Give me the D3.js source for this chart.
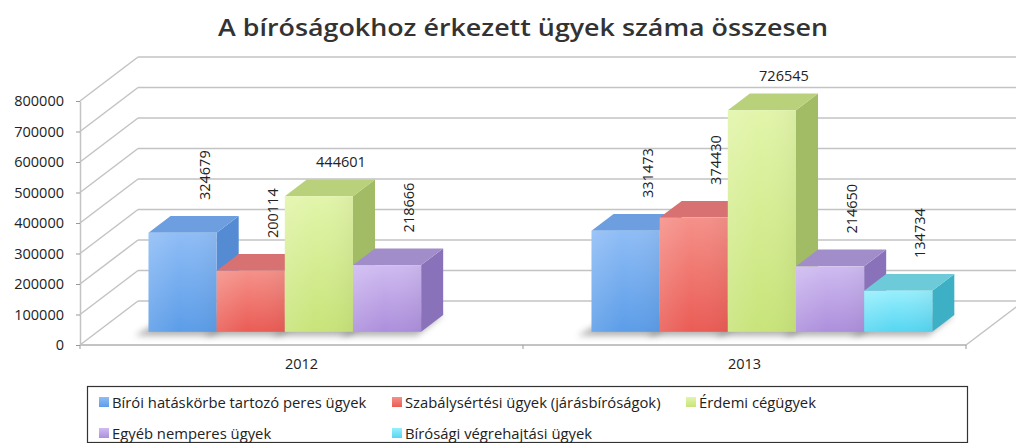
<!DOCTYPE html>
<html lang="hu">
<head>
<meta charset="utf-8">
<title>A bíróságokhoz érkezett ügyek száma összesen</title>
<script src="https://d3js.org/d3.v7.min.js"></script>
<style>
  body { margin: 0; background: #fff; }
  text { font-family: "Open Sans", sans-serif; }
</style>
</head>
<body>
<script>
// Width and height
var w = 1016;
var h = 443;

// Data
var years = ["2012", "2013"];
var seriesNames = [
  "Bírói hatáskörbe tartozó peres ügyek",
  "Szabálysértési ügyek (járásbíróságok)",
  "Érdemi cégügyek",
  "Egyéb nemperes ügyek",
  "Bírósági végrehajtási ügyek"
];
var biroiPeres = [324679, 331473];
var szabalysertesi = [200114, 374430];
var cegugyek = [444601, 726545];
var nemperes = [218666, 214650];
var vegrehajtasi = [null, 134734];   // no 2012 value
var yTicks = [0, 100000, 200000, 300000, 400000, 500000, 600000, 700000, 800000];

var series = [biroiPeres, szabalysertesi, cegugyek, nemperes, vegrehajtasi];

// face colours per series
var colors = [
  { light: "#8fbdf6", dark: "#5c9de8", side: "#548bd2", top: "#6d9fe0" },
  { light: "#f59189", dark: "#ea5c55", side: "#c46262", top: "#d87272" },
  { light: "#e2f5aa", dark: "#c8e47a", side: "#a2bc66", top: "#b9d17a" },
  { light: "#cfbbf1", dark: "#ad8fdc", side: "#8a72ba", top: "#a18dca" },
  { light: "#98effd", dark: "#56d6f2", side: "#3eb0c6", top: "#6dcbd9" }
];

var svg = d3.select("body")
  .append("svg")
  .attr("width", w)
  .attr("height", h);

svg.append("rect").attr("width", w).attr("height", h).attr("fill", "#fff");

var defs = svg.append("defs");
colors.forEach(function(c, i) {
  var g = defs.append("linearGradient").attr("id", "front" + i)
    .attr("x1", 0).attr("y1", 0).attr("x2", 0).attr("y2", 1);
  g.append("stop").attr("offset", "0%").attr("stop-color", c.light);
  g.append("stop").attr("offset", "100%").attr("stop-color", c.dark);
  var hg = defs.append("linearGradient").attr("id", "shine" + i)
    .attr("x1", 0).attr("y1", 0).attr("x2", 1).attr("y2", 0);
  hg.append("stop").attr("offset", "0%").attr("stop-color", "#fff").attr("stop-opacity", 0.12);
  hg.append("stop").attr("offset", "45%").attr("stop-color", "#fff").attr("stop-opacity", 0);
  hg.append("stop").attr("offset", "100%").attr("stop-color", "#000").attr("stop-opacity", 0.04);
});
defs.append("filter").attr("id", "blur")
  .attr("x", "-50%").attr("y", "-50%").attr("width", "200%").attr("height", "200%")
  .append("feGaussianBlur").attr("stdDeviation", 3);

// 3d offset of the back wall
var depthX = 58, depthY = -44;
var d0 = 0.3, d1 = 0.68;   // bar front / back depth

var x = d3.scaleBand().domain(years).range([80, 966]);
var xs = d3.scaleBand().domain(d3.range(seriesNames.length))
  .range([0, x.bandwidth()]).paddingOuter(0.75);
var y = d3.scaleLinear().domain([0, 800000]).range([345, 101]);

function px(xx, d) { return xx + d * depthX; }
function py(v, d) { return y(v) + d * depthY; }
function pts(a) { return a.map(function(p) { return p.join(","); }).join(" "); }

var gridColor = "#c3c3c3";

// back wall gridlines
svg.selectAll(".backgrid")
  .data(yTicks)
  .enter()
  .append("line")
  .attr("x1", px(80, 1)).attr("x2", px(966, 1))
  .attr("y1", function(d) { return py(d, 1); })
  .attr("y2", function(d) { return py(d, 1); })
  .attr("stroke", gridColor).attr("stroke-width", 1.5);

// side wall gridlines
svg.selectAll(".sidegrid")
  .data(yTicks)
  .enter()
  .append("line")
  .attr("x1", 80).attr("x2", px(80, 1))
  .attr("y1", function(d) { return y(d); })
  .attr("y2", function(d) { return py(d, 1); })
  .attr("stroke", gridColor).attr("stroke-width", 1.5);

// floor edges
svg.append("line")
  .attr("x1", 80).attr("x2", 966).attr("y1", y(0)).attr("y2", y(0))
  .attr("stroke", gridColor).attr("stroke-width", 2);
svg.append("line")
  .attr("x1", 966).attr("x2", px(966, 1)).attr("y1", y(0)).attr("y2", py(0, 1))
  .attr("stroke", gridColor).attr("stroke-width", 1.5);

// category boundary ticks
var bounds = [x.range()[0]].concat(years.map(function(d) { return x(d) + x.bandwidth(); }));
svg.selectAll(".xtick")
  .data(bounds)
  .enter()
  .append("line")
  .attr("x1", function(d) { return d; }).attr("x2", function(d) { return d; })
  .attr("y1", y(0)).attr("y2", y(0) + 4)
  .attr("stroke", "#999");

// y axis
var yAxis = svg.append("g")
  .attr("transform", "translate(80,0)")
  .call(d3.axisLeft(y).tickValues(yTicks).tickSize(4).tickSizeOuter(0).tickPadding(12)
    .tickFormat(d3.format("d")));
yAxis.select(".domain").attr("stroke", gridColor).attr("stroke-width", 1.5);
yAxis.selectAll(".tick line").attr("stroke", "#999");
yAxis.selectAll("text").attr("font-size", 14.5).attr("fill", "#222")
  .attr("font-family", "'Open Sans', sans-serif");

// x axis labels
svg.selectAll(".xlabel")
  .data(years)
  .enter()
  .append("text")
  .text(function(d) { return d; })
  .attr("x", function(d) { return x(d) + x.bandwidth() / 2; })
  .attr("y", 369)
  .attr("text-anchor", "middle")
  .attr("font-size", 14.5)
  .attr("fill", "#222");

// flatten bars
var bars = [];
years.forEach(function(yr, i) {
  series.forEach(function(s, j) {
    if (s[i] == null) return;
    var x0 = x(yr) + xs(j);
    bars.push({ year: yr, s: j, v: s[i], x0: x0, x1: x0 + xs.bandwidth() });
  });
});

// floor shadows
svg.selectAll(".shadow")
  .data(bars)
  .enter()
  .append("polygon")
  .attr("points", function(d) {
    return pts([[px(d.x0, d0) - 14, py(0, d0) + 4], [px(d.x1, d0) - 4, py(0, d0) + 4],
                [px(d.x1, d1), py(0, d1)], [px(d.x0, d1), py(0, d1)]]);
  })
  .attr("fill", "#666")
  .attr("opacity", 0.5)
  .attr("filter", "url(#blur)");

// bars, drawn left to right
var bar = svg.selectAll(".bar")
  .data(bars)
  .enter()
  .append("g")
  .attr("class", "bar");

bar.append("polygon")
  .attr("points", function(d) {
    return pts([[px(d.x1, d0), py(d.v, d0)], [px(d.x1, d1), py(d.v, d1)],
                [px(d.x1, d1), py(0, d1)], [px(d.x1, d0), py(0, d0)]]);
  })
  .attr("fill", function(d) { return colors[d.s].side; });

bar.append("polygon")
  .attr("points", function(d) {
    return pts([[px(d.x0, d0), py(d.v, d0)], [px(d.x0, d1), py(d.v, d1)],
                [px(d.x1, d1), py(d.v, d1)], [px(d.x1, d0), py(d.v, d0)]]);
  })
  .attr("fill", function(d) { return colors[d.s].top; });

bar.append("rect")
  .attr("x", function(d) { return px(d.x0, d0); })
  .attr("y", function(d) { return py(d.v, d0); })
  .attr("width", function(d) { return d.x1 - d.x0; })
  .attr("height", function(d) { return py(0, d0) - py(d.v, d0); })
  .attr("fill", function(d) { return "url(#front" + d.s + ")"; });

bar.append("rect")
  .attr("x", function(d) { return px(d.x0, d0); })
  .attr("y", function(d) { return py(d.v, d0); })
  .attr("width", function(d) { return d.x1 - d.x0; })
  .attr("height", function(d) { return py(0, d0) - py(d.v, d0); })
  .attr("fill", function(d) { return "url(#shine" + d.s + ")"; });

// value labels (the green ones are horizontal)
svg.selectAll(".val")
  .data(bars)
  .enter()
  .append("text")
  .text(function(d) { return d.v; })
  .attr("transform", function(d) {
    var cx = px((d.x0 + d.x1) / 2, d1);
    var ty = py(d.v, d1) - 16;
    if (d.s == 2) return "translate(" + cx + "," + (ty + 4) + ")";
    return "translate(" + cx + "," + ty + ") rotate(-90)";
  })
  .attr("text-anchor", function(d) { return d.s == 2 ? "middle" : "start"; })
  .attr("dy", function(d) { return d.s == 2 ? 0 : "0.35em"; })
  .attr("font-size", 14.5)
  .attr("fill", "#222");

// title
svg.append("text")
  .text("A bíróságokhoz érkezett ügyek száma összesen")
  .attr("x", 523)
  .attr("y", 36)
  .attr("text-anchor", "middle")
  .attr("font-size", 24)
  .attr("font-weight", 600)
  .attr("textLength", 610)
  .attr("lengthAdjust", "spacingAndGlyphs")
  .attr("fill", "#333");

// legend
svg.append("rect")
  .attr("x", 87.5).attr("y", 386.5)
  .attr("width", 880).attr("height", 56)
  .attr("fill", "#fff")
  .attr("stroke", "#333").attr("stroke-width", 1.2);

var legendPos = [[99, 397], [392, 397], [686, 397], [99, 428], [392, 428]];
var item = svg.selectAll(".legend")
  .data(seriesNames)
  .enter()
  .append("g")
  .attr("transform", function(d, i) { return "translate(" + legendPos[i][0] + "," + legendPos[i][1] + ")"; });

item.append("rect")
  .attr("width", 10).attr("height", 10)
  .attr("fill", function(d, i) { return "url(#front" + i + ")"; });

item.append("text")
  .text(function(d) { return d; })
  .attr("x", 13)
  .attr("y", 10.5)
  .attr("font-size", 14.8)
  .attr("fill", "#222");
</script>
</body>
</html>
